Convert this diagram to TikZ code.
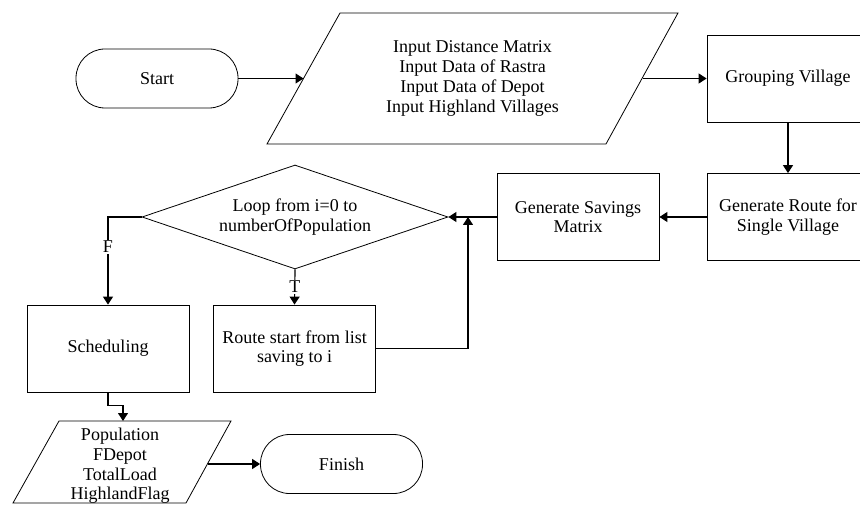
\documentclass[tikz,border=0pt]{standalone}
\usepackage{fontspec}
\setmainfont{Liberation Serif}
\usetikzlibrary{shapes.geometric,arrows.meta}
\begin{document}
\begin{tikzpicture}[x=1pt,y=-1pt,
  font=\fontsize{18}{19.7}\selectfont,
  shp/.style={draw,line width=0.8pt},
  box/.style={shp,minimum width=162pt,minimum height=87pt,inner sep=0pt,align=center},
  term/.style={shp,rounded corners=29pt,minimum width=162pt,minimum height=59pt,inner sep=0pt},
  dec/.style={shp,diamond,minimum width=306pt,minimum height=104pt,inner sep=0pt},
  txt/.style={align=center,inner sep=0pt},
  arr/.style={line width=1.2pt,-{Triangle[length=8pt,width=10pt]}},
  lbl/.style={fill=white,inner sep=1pt}]
\useasboundingbox (0,0) rectangle (860,505);
% input parallelogram
\draw[shp] (267,144) -- (340,13) -- (678,13) -- (606,144) -- cycle;
\coordinate (inL) at (303.5,78.5);
\coordinate (inR) at (642.5,78.5);
\node[txt] (input) at (472.5,78.5) {Input Distance Matrix\\Input Data of Rastra\\Input Data of Depot\\Input Highland Villages};
% output parallelogram
\draw[shp] (13,503) -- (59,421) -- (231,421) -- (186,503) -- cycle;
\coordinate (outT) at (123,421);
\coordinate (outR) at (207.5,464);
\node[txt] (out) at (120,466) {Population\\FDepot\\TotalLoad\\HighlandFlag};
\node[term] (start) at (157,78.5) {Start};
\node[box] (group) at (788,78.5) {Grouping Village};
\node[box] (route) at (788,217) {Generate Route for\\Single Village};
\node[box] (sav) at (578,217) {Generate Savings\\Matrix};
\node[dec] (loop) at (295,217) {};
\node[txt] (looptxt) at (loop) {Loop from i=0 to\\numberOfPopulation};
\node[box] (sched) at (108,348.5) {Scheduling};
\node[box] (rs) at (294.5,348.5) {Route start from list\\saving to i};
\node[term] (fin) at (341.5,464) {Finish};
\coordinate (join) at (468,217);
\draw[arr] (start) -- (inL);
\draw[arr] (inR) -- (group);
\draw[arr] (group) -- (route);
\draw[arr] (route) -- (sav);
\draw[arr] (sav) -- (loop);
\draw[arr] (loop.west) -| node[lbl,pos=0.67]{F} (sched.north);
\draw[arr] (loop.south) -- node[lbl]{T} (rs.north);
\draw[arr] (rs.east) -| (join);
\draw[arr] (sched.south) -- ++(0,13) -| (outT);
\draw[arr] (outR) -- (fin);
\end{tikzpicture}
\end{document}
